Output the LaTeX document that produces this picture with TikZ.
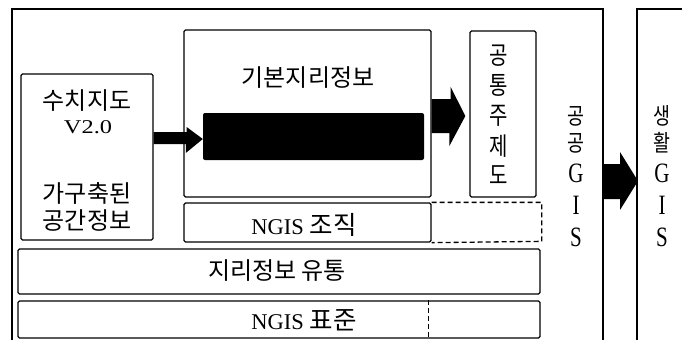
\documentclass[tikz,border=0pt]{standalone}
\usepackage{fontspec}
\setmainfont{Liberation Serif}
\newfontfamily\kr{Noto Sans CJK KR}
\newcommand{\vk}[1]{\scalebox{0.8}[1]{\kr\fontsize{25}{25}\selectfont #1}}
\newcommand{\gk}[1]{\scalebox{0.8}[1]{\kr\fontsize{23}{23}\selectfont #1}}
\newcommand{\gl}[1]{\scalebox{0.75}[1]{\fontsize{28}{28}\selectfont #1}}
\usetikzlibrary{calc}
\begin{document}
\begin{tikzpicture}[x=1pt,y=-1pt,
  box/.style={draw,line width=1.3pt,rounded corners=1.5pt,inner sep=0pt},
  ktxt/.style={font=\kr\fontsize{24}{24}\selectfont,inner sep=0pt},
  plain/.style={inner sep=0pt}]
\useasboundingbox (0,0) rectangle (682,340);
% frames
\coordinate (o1) at (12,340); \coordinate (o2) at (12,9);
\coordinate (o3) at (603,9); \coordinate (o4) at (603,340);
\draw[line width=1.3pt] (o1) -- (o2) -- (o3) -- (o4);
\coordinate (r1) at (682,9); \coordinate (r2) at (637,9); \coordinate (r3) at (637,340);
\draw[line width=1.3pt] (r1) -- (r2) -- (r3);
% boxes
\node[box,minimum width=132pt,minimum height=166pt] (sc) at (87,157) {};
\node[box,minimum width=247pt,minimum height=167pt] (kb) at (307.5,113.5) {};
\node[fill=black,rounded corners=2pt,minimum width=221pt,minimum height=47pt,inner sep=0pt] (blk) at (313.5,136.5) {};
\node[box,minimum width=66pt,minimum height=166pt] (gt) at (503,114) {};
\node[box,minimum width=247pt,minimum height=39pt] (org) at (307.5,222.5) {};
\draw[line width=1.3pt,dashed,dash pattern=on 5pt off 3pt] (org.north east) -- ++(110,0) -- ++(0,39) -- (org.south east);
\node[box,minimum width=522pt,minimum height=45pt] (flow) at (279,271.5) {};
\node[box,minimum width=522pt,minimum height=37pt] (std) at (279,319.5) {};
\draw[line width=1.3pt,dashed,dash pattern=on 5pt off 3pt] ($(std.north west)+(411,0)$) -- ($(std.south west)+(411,0)$);
% arrows
\fill ($(sc.east)+(0,-25)$) -- ++(33,0) -- ++(0,-5) -- ($(blk.west)+(0,2.5)$) -- ++(-17,14) -- ++(0,-9) -- ($(sc.east)+(0,-13)$) -- cycle;
\fill ($(kb.east)+(0,-14.5)$) -- ++(19,0) -- ++(0,-12) -- ($(gt.west)+(-4,2)$) -- ++(-16,30) -- ++(0,-13) -- ($(kb.east)+(0,19.5)$) -- cycle;
\coordinate (a3) at (603,164);
\fill (a3) -- ++(17,0) -- ++(0,-12) -- ($(r2)+(1,172)$) -- ++(-18,29) -- ++(0,-11) -- ++(-17,0) -- cycle;
% texts
\node[ktxt] (t1) at (87,101) {수치지도};
\node[plain] (t2) at (88,127) {\scalebox{1.25}[1]{\fontsize{19.5}{19.5}\selectfont V2.0}};
\node[ktxt] (t3) at (87,193) {가구축된};
\node[ktxt] (t4) at (87,220) {공간정보};
\node[ktxt] (t5) at (308,78) {기본지리정보};
\node[plain] (g1) at (498.5,56) {\vk{공}};
\node[plain] (g2) at (498.5,85) {\vk{통}};
\node[plain] (g3) at (498.5,116) {\vk{주}};
\node[plain] (g4) at (498.5,146) {\vk{제}};
\node[plain] (g5) at (498.5,175) {\vk{도}};
\node[plain] (t6) at (304,224.5) {\fontsize{22.5}{22.5}\selectfont NGIS {\kr\fontsize{25.5}{25.5}\selectfont 조직}};
\node[ktxt] (t7) at (277,271) {지리정보 유통};
\node[plain] (t8) at (304,320.5) {\fontsize{22.5}{22.5}\selectfont NGIS {\kr\fontsize{25.5}{25.5}\selectfont 표준}};
\node[plain] (p1) at (576,116) {\gk{공}};
\node[plain] (p2) at (576,143) {\gk{공}};
\node[plain] (p3) at (576,173) {\gl{G}};
\node[plain] (p4) at (576,205) {\gl{I}};
\node[plain] (p5) at (576,237) {\gl{S}};
\node[plain] (s1) at (662,116) {\gk{생}};
\node[plain] (s2) at (662,143) {\gk{활}};
\node[plain] (s3) at (662,173) {\gl{G}};
\node[plain] (s4) at (662,205) {\gl{I}};
\node[plain] (s5) at (662,237) {\gl{S}};
\end{tikzpicture}
\end{document}
